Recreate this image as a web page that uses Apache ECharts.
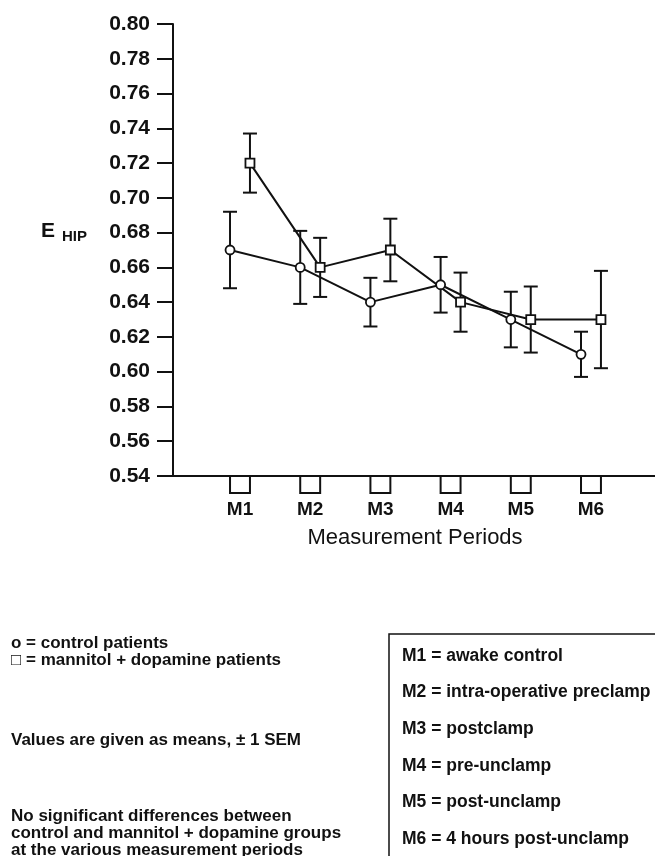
<!DOCTYPE html>
<html>
<head>
<meta charset="utf-8">
<script src="https://cdn.jsdelivr.net/npm/echarts@6/dist/echarts.min.js"></script>
<style>
html,body{margin:0;padding:0;background:#fff;}
#chart{width:655px;height:856px;}
</style>
</head>
<body>
<div id="chart"></div>
<script>
// ---- data ----
var categories = ['M1', 'M2', 'M3', 'M4', 'M5', 'M6'];
var controlMean = [0.670, 0.660, 0.640, 0.650, 0.630, 0.610];
var controlSEM  = [0.022, 0.021, 0.014, 0.016, 0.016, 0.013];
var mannitolMean = [0.720, 0.660, 0.670, 0.640, 0.630, 0.630];
var mannitolSEM  = [0.017, 0.017, 0.018, 0.017, 0.019, 0.028];
var yTicks = [0.54, 0.56, 0.58, 0.60, 0.62, 0.64, 0.66, 0.68, 0.70, 0.72, 0.74, 0.76, 0.78, 0.80];
var periodNotes = [
  'M1 = awake control',
  'M2 = intra-operative preclamp',
  'M3 = postclamp',
  'M4 = pre-unclamp',
  'M5 = post-unclamp',
  'M6 = 4 hours post-unclamp'
];
var symbolNotes = ['o = control patients', '\u25A1 = mannitol + dopamine patients'];
var semNote = 'Values are given as means, \u00B1 1 SEM';
var sigNote = ['No significant differences between', 'control and mannitol + dopamine groups', 'at the various measurement periods'];

// ---- layout helpers ----
var OFF = 0.142; // horizontal offset of each group from the category centre
var FONT = '"Liberation Sans", Arial, Helvetica, sans-serif';

function pts(means, sign) {
  return means.map(function (m, i) { return [i + 1 + sign * OFF, m]; });
}
function errData(means, sems, sign) {
  return means.map(function (m, i) { return [i + 1 + sign * OFF, m - sems[i], m + sems[i]]; });
}

var errRender = function (params, api) {
  var x = api.value(0);
  var lo = api.coord([x, api.value(1)]);
  var hi = api.coord([x, api.value(2)]);
  var cap = 7;
  var st = { stroke: '#111', lineWidth: 2 };
  return {
    type: 'group',
    children: [
      { type: 'line', shape: { x1: lo[0], y1: lo[1], x2: hi[0], y2: hi[1] }, style: st },
      { type: 'line', shape: { x1: lo[0] - cap, y1: lo[1], x2: lo[0] + cap, y2: lo[1] }, style: st },
      { type: 'line', shape: { x1: hi[0] - cap, y1: hi[1], x2: hi[0] + cap, y2: hi[1] }, style: st }
    ]
  };
};

var catRender = function (params, api) {
  var c = api.value(0);
  var yMin = yTicks[0];
  var l = api.coord([c - OFF, yMin]);
  var r = api.coord([c + OFF, yMin]);
  var mid = api.coord([c, yMin]);
  var st = { stroke: '#111', lineWidth: 2, fill: null };
  return {
    type: 'group',
    children: [
      { type: 'polyline', shape: { points: [[l[0], l[1]], [l[0], l[1] + 17], [r[0], r[1] + 17], [r[0], r[1]]] }, style: st },
      { type: 'text', style: { text: categories[params.dataIndex], x: mid[0], y: mid[1] + 34, align: 'center', verticalAlign: 'middle',
        font: 'bold 19px ' + FONT, fill: '#111' } }
    ]
  };
};

var chart = echarts.init(document.getElementById('chart'), null, { renderer: 'canvas' });

var graphics = [];
// y axis name E_HIP
graphics.push({ type: 'text', left: 41, top: 221, style: { text: 'E', font: 'bold 21px ' + FONT, fill: '#111' } });
graphics.push({ type: 'text', left: 62, top: 229, style: { text: 'HIP', font: 'bold 15px ' + FONT, fill: '#111' } });
// x axis title
graphics.push({ type: 'text', x: 415, y: 538, style: { text: 'Measurement Periods', font: '22px ' + FONT, fill: '#111', align: 'center', verticalAlign: 'middle' } });
// symbol notes
symbolNotes.forEach(function (t, i) {
  graphics.push({ type: 'text', x: 11, y: 643 + i * 17, style: { text: t, font: 'bold 17px ' + FONT, fill: '#111', verticalAlign: 'middle' } });
});
graphics.push({ type: 'text', x: 11, y: 740, style: { text: semNote, font: 'bold 17px ' + FONT, fill: '#111', verticalAlign: 'middle' } });
sigNote.forEach(function (t, i) {
  graphics.push({ type: 'text', x: 11, y: 816 + i * 17, style: { text: t, font: 'bold 17px ' + FONT, fill: '#111', verticalAlign: 'middle' } });
});
// box with period notes
graphics.push({ type: 'rect', shape: { x: 389, y: 634, width: 300, height: 300 }, style: { fill: null, stroke: '#111', lineWidth: 1.5 } });
periodNotes.forEach(function (t, i) {
  graphics.push({ type: 'text', x: 402, y: 656 + i * 36.6, style: { text: t, font: 'bold 17.5px ' + FONT, fill: '#111', verticalAlign: 'middle' } });
});

var option = {
  backgroundColor: '#fff',
  animation: false,
  grid: { left: 173, right: 0, top: 24, bottom: 380, containLabel: false },
  xAxis: {
    type: 'value', min: 0.0456, max: 6.912,
    axisLine: { show: true, onZero: false, lineStyle: { color: '#111', width: 2 } },
    axisTick: { show: false }, axisLabel: { show: false }, splitLine: { show: false }
  },
  yAxis: {
    type: 'value', min: yTicks[0], max: yTicks[yTicks.length - 1], interval: 0.02,
    axisLine: { show: true, lineStyle: { color: '#111', width: 2 } },
    axisTick: { show: true, length: 16, lineStyle: { color: '#111', width: 2 } },
    axisLabel: { margin: 23, color: '#111', fontFamily: FONT, fontWeight: 'bold', fontSize: 21,
      formatter: function (v) { return v.toFixed(2); } },
    splitLine: { show: false }
  },
  graphic: graphics,
  series: [
    { type: 'custom', renderItem: catRender, data: categories.map(function (c, i) { return [i + 1]; }), z: 1, silent: true, clip: false },
    { type: 'custom', renderItem: errRender, data: errData(controlMean, controlSEM, -1), z: 2, silent: true },
    { type: 'custom', renderItem: errRender, data: errData(mannitolMean, mannitolSEM, 1), z: 2, silent: true },
    { type: 'line', data: pts(controlMean, -1), symbol: 'circle', symbolSize: 9, z: 3,
      lineStyle: { color: '#111', width: 2 }, itemStyle: { color: '#fff', borderColor: '#111', borderWidth: 1.8 } },
    { type: 'line', data: pts(mannitolMean, 1), symbol: 'rect', symbolSize: 9, z: 3,
      lineStyle: { color: '#111', width: 2 }, itemStyle: { color: '#fff', borderColor: '#111', borderWidth: 1.8 } }
  ]
};
chart.setOption(option);
</script>
</body>
</html>
